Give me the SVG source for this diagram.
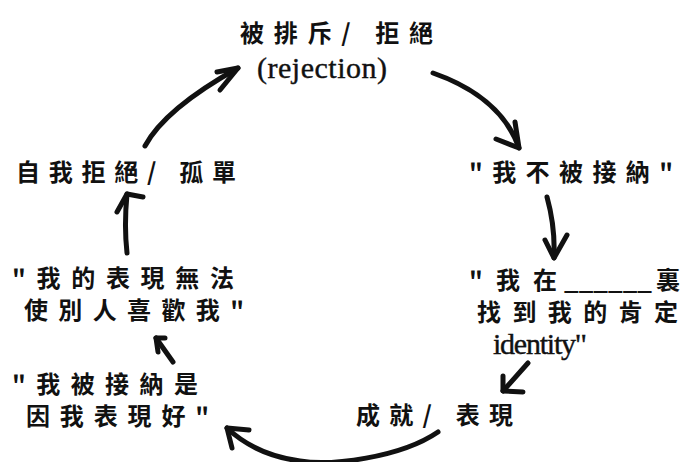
<svg xmlns="http://www.w3.org/2000/svg" width="687" height="462" viewBox="0 0 687 462">
<style>
.cjk{font-family:"Noto Sans CJK TC","Noto Sans CJK SC",sans-serif;font-size:24px;font-weight:700;fill:#111}
.lat{font-family:"Liberation Serif",serif;font-size:30px;fill:#111;stroke:#111;stroke-width:0.4}
.arr{fill:none;stroke:#111;stroke-width:5;stroke-linecap:round;stroke-linejoin:round}
</style>
<rect width="687" height="462" fill="#fff"/>
<g id="node-rejection">
<text class="cjk" x="240" y="42" textLength="193" lengthAdjust="spacing">被排斥/ 拒絕</text>
<text class="lat" x="257" y="78" textLength="130" lengthAdjust="spacing">(rejection)</text>
</g>
<g id="node-not-accepted">
<text class="cjk" x="469" y="181" textLength="204" lengthAdjust="spacing">"我不被接納"</text>
</g>
<g id="node-identity">
<text class="cjk" y="289"><tspan x="469" textLength="88" lengthAdjust="spacing">"我在</tspan><tspan x="564" textLength="88" lengthAdjust="spacingAndGlyphs">______</tspan><tspan x="656">裏</tspan></text>
<text class="cjk" x="477" y="321" textLength="201" lengthAdjust="spacing">找到我的肯定</text>
<text class="lat" x="493" y="354" textLength="94" lengthAdjust="spacing">identity"</text>
</g>
<g id="node-performance">
<text class="cjk" x="356" y="424" textLength="157" lengthAdjust="spacing">成就/ 表現</text>
</g>
<g id="node-accepted-because">
<text class="cjk" x="12" y="393" textLength="186" lengthAdjust="spacing">"我被接納是</text>
<text class="cjk" x="26" y="425" textLength="183" lengthAdjust="spacing">因我表現好"</text>
</g>
<g id="node-cannot-please">
<text class="cjk" x="12" y="287" textLength="222" lengthAdjust="spacing">"我的表現無法</text>
<text class="cjk" x="24" y="319" textLength="220" lengthAdjust="spacing">使別人喜歡我"</text>
</g>
<g id="node-self-rejection">
<text class="cjk" x="16" y="181" textLength="220" lengthAdjust="spacing">自我拒絕/ 孤單</text>
</g>
<g id="connectors">
<path class="arr" d="M145,146 C160,118 195,92 238,68"/>
<path class="arr" d="M217,72 L238,68 L220,90"/>
<path class="arr" d="M433,73 C470,86 505,108 519,148"/>
<path class="arr" d="M496,139 L519,148 L515,122"/>
<path class="arr" d="M547,197 C552,215 555,235 554,258"/>
<path class="arr" d="M545,240 L554,258 L567,235"/>
<path class="arr" d="M528,363 L503,391"/>
<path class="arr" d="M503,376 L503,391 L523,392"/>
<path class="arr" d="M438,432 C400,458 330,466 300,461 C270,457 245,445 227,428"/>
<path class="arr" d="M249,430 L227,428 L232,448"/>
<path class="arr" d="M173,362 L156,338"/>
<path class="arr" d="M165,338 L156,338 L158,352"/>
<path class="arr" d="M127,253 C125,235 125,215 127,194"/>
<path class="arr" d="M117,212 L127,194 L143,197"/>
</g>
</svg>
